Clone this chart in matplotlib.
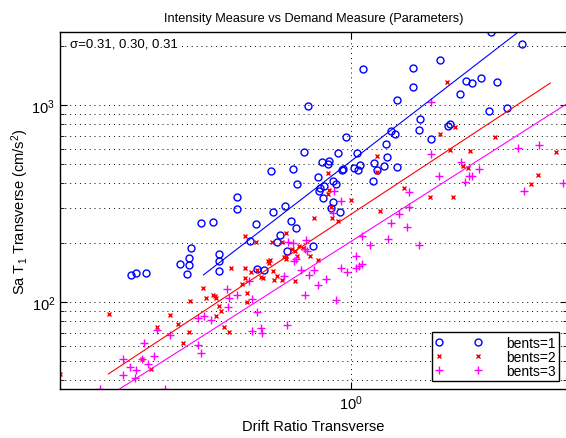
import numpy as np
import matplotlib
matplotlib.use("Agg")
from matplotlib import pyplot as plt
from matplotlib.ticker import LogLocator, NullLocator, NullFormatter

plt.rcParams['font.family'] = ['Liberation Sans', 'DejaVu Sans']
plt.rcParams['mathtext.fontset'] = 'custom'
plt.rcParams['mathtext.rm'] = 'Liberation Sans'
plt.rcParams['mathtext.it'] = 'Liberation Sans:italic'

# bents=1 (drift ratio, Sa T1 in cm/s^2)
drift_b1 = [0.282, 0.290, 0.307, 0.374, 0.389, 0.394, 0.394, 0.398, 0.422, 0.452,
            0.468, 0.468, 0.468, 0.519, 0.519, 0.579, 0.559, 0.582, 0.606, 0.638,
            0.684, 0.664, 0.653, 0.708, 0.729, 0.692, 0.804, 0.631, 0.716, 0.733,
            0.763, 0.781, 0.827, 0.837, 0.832, 0.856, 0.851, 0.846, 0.881, 0.876,
            0.902, 0.917, 0.902, 0.891, 0.939, 0.928, 0.950, 0.955, 0.972, 1.017,
            1.035, 1.041, 1.053, 1.072, 1.135, 1.142, 1.161, 1.209, 1.223, 1.259,
            1.288, 1.303, 1.303, 1.230, 1.429, 1.429, 1.479, 1.488, 1.585, 1.669,
            1.748, 1.768, 1.873, 1.939, 2.007, 2.114, 2.213, 2.239, 2.317, 2.455,
            2.676]
sa_b1 = [137, 140, 140, 156, 139, 154, 167, 188, 252, 255,
         175, 161, 144, 341, 297, 249, 204, 147, 145, 286,
         307, 219, 202, 258, 238, 182, 192, 462, 473, 397,
         578, 989, 431, 379, 366, 388, 337, 514, 520, 502,
         411, 397, 322, 300, 286, 571, 468, 473, 688, 479,
         571, 468, 496, 1520, 411, 508, 468, 490, 634, 738,
         713, 1060, 485, 545, 1540, 1230, 747, 849, 672, 1690,
         783, 801, 1140, 1320, 1290, 1370, 933, 2350, 1309, 966,
         2040]

# bents=2
drift_b2 = [0.187, 0.248, 0.299, 0.316, 0.327, 0.353, 0.369, 0.380, 0.394, 0.396,
            0.427, 0.434, 0.452, 0.455, 0.460, 0.468, 0.473, 0.460, 0.481, 0.495,
            0.501, 0.534, 0.543, 0.543, 0.543, 0.550, 0.550, 0.562, 0.579, 0.582,
            0.596, 0.603, 0.620, 0.627, 0.624, 0.638, 0.635, 0.653, 0.642, 0.672,
            0.672, 0.688, 0.680, 0.688, 0.688, 0.712, 0.724, 0.733, 0.741, 0.759,
            0.724, 0.790, 0.808, 0.827, 0.876, 0.876, 0.881, 0.891, 0.896, 0.928,
            1.000, 1.161, 1.161, 1.182, 1.357, 1.576, 1.669, 1.738, 1.768, 1.799,
            1.820, 1.905, 1.961, 1.984, 2.291, 2.818, 2.934, 3.255]
sa_b2 = [43.1, 86.9, 51.4, 45.7, 74.7, 85.9, 77.3, 61.9, 70.4, 101,
         118, 105, 108.5, 107.3, 105, 95.4, 90.0, 84.9, 74.7, 70.4,
         148.8, 123.4, 132.4, 148.8, 216, 111, 100, 142, 202, 145.4,
         133.9, 132.4, 161.5, 163.4, 157.7, 143.7, 202, 135.5, 129.3, 202,
         129.3, 224, 169, 171, 165, 186, 181.5, 171, 192.5, 188,
         127.8, 171, 267, 163.4, 452, 353, 370, 304, 267, 258,
         330, 551, 457, 290, 379, 341, 713, 1309, 591, 341,
         774, 490, 479, 584, 688, 397, 441, 578]

# bents=3
drift_b3 = [0.236, 0.343, 0.268, 0.269, 0.279, 0.288, 0.290, 0.300, 0.304, 0.311,
            0.322, 0.327, 0.353, 0.414, 0.422, 0.414, 0.429, 0.447, 0.490, 0.495,
            0.519, 0.493, 0.566, 0.556, 0.582, 0.566, 0.596, 0.599, 0.692, 0.767,
            0.917, 0.680, 0.696, 0.716, 0.720, 0.750, 0.767, 0.776, 0.772, 0.785,
            0.808, 0.827, 0.866, 0.944, 0.977, 1.029, 1.047, 1.065, 1.029, 1.065,
            1.116, 1.237, 1.259, 1.318, 1.396, 1.380, 1.396, 1.479, 0.907, 0.944,
            0.902, 1.585, 1.585, 1.660, 1.884, 1.927, 1.972, 2.007, 2.089, 2.615,
            2.951, 2.707, 3.389, 0.729]
sa_b3 = [36.2, 36.2, 51.4, 42.6, 46.8, 41.1, 45.2, 51.4, 61.9, 48.4,
         53.2, 72.1, 68.0, 60.5, 55.1, 82.9, 84.9, 81.0, 116.4, 104.8,
         108.5, 94.3, 103.6, 127.8, 89.0, 71.2, 73.8, 69.6, 76.4, 108.5,
         102.4, 135.5, 202, 199, 161.5, 145.4, 186, 181.5, 206, 137,
         145.4, 122, 131, 148.8, 142, 171, 152, 156, 148.8, 216,
         195, 209, 252, 280, 304, 240, 362, 195, 366, 326,
         283, 1036, 564, 436, 514, 407, 436, 436, 473, 605,
         627, 366, 402, 165]

# log-log regression lines: log10(Sa) = a + b*log10(drift), drawn over [x0, x1]
fit_a = [2.717, 2.447, 2.309]
fit_b = [1.567, 1.337, 1.295]
fit_x0 = [0.427, 0.247, 0.263]
fit_x1 = [2.615, 3.144, 3.6]
sigmas = [0.31, 0.30, 0.31]

labels = ['bents=1', 'bents=2', 'bents=3']
colors = ['#0000ff', '#ff0000', '#ff00ff']
markers = ['o', 'x', '+']
msizes = [5, 3.5, 5.5]

fig = plt.figure(figsize=(5.66, 4.39), dpi=100)
ax = fig.add_axes([60/566, 49/439, 507/566, 357/439])

xs = [drift_b1, drift_b2, drift_b3]
ys = [sa_b1, sa_b2, sa_b3]
for i in range(3):
  ax.plot(xs[i], ys[i], linestyle='none', marker=markers[i], ms=msizes[i],
          mfc='none', mec=colors[i], mew=1.0, label=labels[i])
for i in range(3):
  xx = np.array([fit_x0[i], fit_x1[i]])
  ax.plot(xx, 10**(fit_a[i] + fit_b[i]*np.log10(xx)), color=colors[i], lw=0.8)

ax.set_xscale('log')
ax.set_yscale('log')
ax.set_xlim(0.187, 3.46)
ax.set_ylim(36.2, 2350)

ax.xaxis.set_major_locator(LogLocator(base=10, numticks=10))
ax.xaxis.set_minor_locator(NullLocator())
ax.yaxis.set_minor_locator(LogLocator(base=10, subs=np.arange(2, 10), numticks=20))
ax.yaxis.set_minor_formatter(NullFormatter())
ax.tick_params(which='both', direction='in', top=True, right=True, labelsize=10.5)
ax.tick_params(which='major', length=5, width=0.8)
ax.tick_params(which='minor', length=3, width=0.6)

ax.grid(True, which='major', axis='both', color='k', linestyle=(0, (1, 4)), lw=0.7)
ax.grid(True, which='minor', axis='y', color='k', linestyle=(0, (1, 4)), lw=0.7)
for s in ax.spines.values():
  s.set_linewidth(1.0)

ax.set_title('Intensity Measure vs Demand Measure (Parameters)', fontsize=9.2, pad=8)
ax.set_xlabel('Drift Ratio Transverse', fontsize=10.5, labelpad=5)
ax.set_ylabel('Sa T$_1$ Transverse (cm/s$^2$)', fontsize=10.5, labelpad=0)

ax.text(0.02, 0.985, '\u03c3=' + ', '.join('%.2f' % s for s in sigmas),
        transform=ax.transAxes, ha='left', va='top', fontsize=9.5,
        bbox=dict(facecolor='white', edgecolor='none', pad=0.5))

leg = ax.legend(loc='lower right', numpoints=2, fontsize=10, handlelength=3.4,
                handletextpad=1.7, labelspacing=0.0, borderaxespad=0.55,
                borderpad=0.25, fancybox=False, framealpha=1)
leg.get_frame().set_edgecolor('k')
leg.get_frame().set_linewidth(1.0)

plt.savefig('out.png', dpi=100)
plt.close()
